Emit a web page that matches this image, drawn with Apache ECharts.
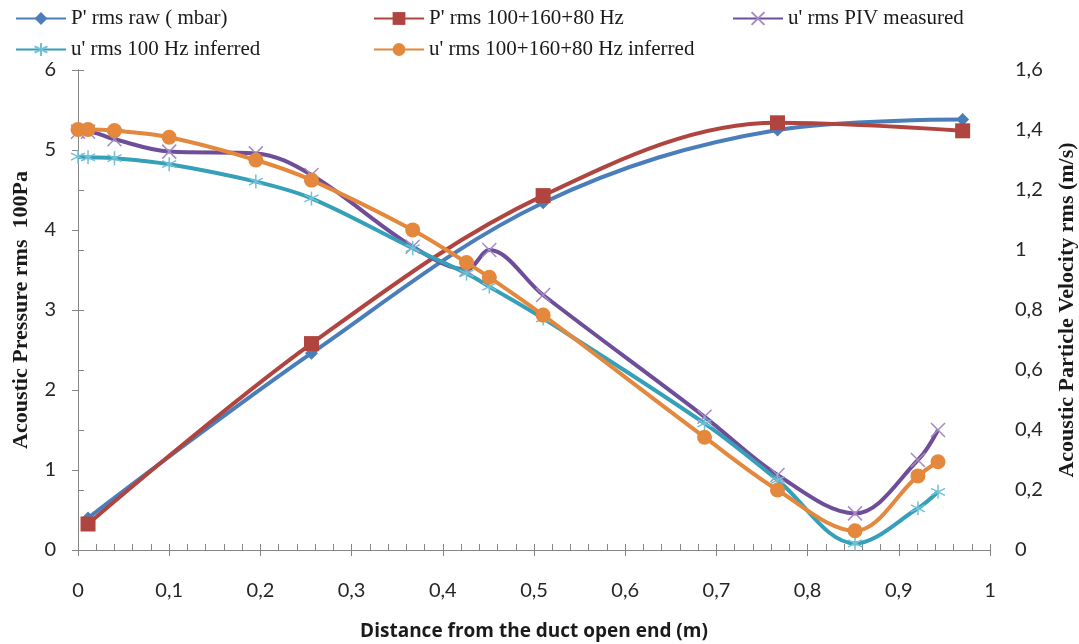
<!DOCTYPE html>
<html>
<head>
<meta charset="utf-8">
<script src="https://cdn.jsdelivr.net/npm/echarts@6/dist/echarts.min.js"></script>
<style>
  html, body { margin: 0; padding: 0; background: #fff; }
  #main { width: 1079px; height: 644px; }
</style>
</head>
<body>
<div id="main"></div>
<script>
// pressure series (left axis, 100 Pa)
var pRawX = [0.011, 0.256, 0.51, 0.767, 0.97];
var pRawY = [0.40, 2.46, 4.34, 5.25, 5.38];
var pFiltX = [0.011, 0.256, 0.51, 0.767, 0.97];
var pFiltY = [0.325, 2.58, 4.43, 5.34, 5.24];

// velocity series (right axis, m/s)
var uX = [0, 0.011, 0.040, 0.1, 0.195, 0.256, 0.367, 0.426, 0.451, 0.51, 0.687, 0.767, 0.852, 0.921, 0.943];
var uPiv = [1.394, 1.394, 1.369, 1.328, 1.322, 1.25, 1.011, 0.935, 1.0, 0.85, 0.444, 0.25, 0.122, 0.30, 0.40];
var u100 = [1.311, 1.309, 1.306, 1.286, 1.228, 1.172, 1.006, 0.922, 0.878, 0.772, 0.422, 0.233, 0.022, 0.139, 0.194];
var uAll = [1.402, 1.402, 1.398, 1.376, 1.30, 1.233, 1.067, 0.958, 0.909, 0.783, 0.376, 0.20, 0.064, 0.247, 0.294];

var names = ["P' rms raw ( mbar)", "P' rms 100+160+80 Hz", "u' rms PIV measured",
             "u' rms 100 Hz inferred", "u' rms 100+160+80 Hz inferred"];

function pairs(xs, ys) {
  return xs.map(function (x, i) { return [x, ys[i]]; });
}
function comma(v) { return String(Math.round(v * 10) / 10).replace('.', ','); }

var xMark = 'path://M0,0L10,10M10,0L0,10';
var starMark = 'path://M5,0L5,10M0.7,2.5L9.3,7.5M9.3,2.5L0.7,7.5';

var chart = echarts.init(document.getElementById('main'));

var axisLine = { lineStyle: { color: '#868686', width: 1 } };
var tickLabel = { color: '#262626', fontSize: 20, fontFamily: 'Lato' };
var legendText = { fontSize: 21, fontFamily: 'Liberation Serif', color: '#1a1a1a' };
var serifTitle = { fontSize: 22, fontWeight: 'bold', fontFamily: 'Liberation Serif', color: '#1a1a1a' };

function legendCol(left, data) {
  return {
    orient: 'vertical', left: left, top: 3,
    itemWidth: 50, itemHeight: 16, itemGap: 10, padding: [5, 3],
    textStyle: legendText, data: data
  };
}

var option = {
  animation: false,
  backgroundColor: '#fff',
  legend: [
    legendCol(12, [names[0], names[3]]),
    legendCol(370, [names[1], names[4]]),
    legendCol(729, [names[2]])
  ],
  grid: { left: 78, right: 89, top: 70, bottom: 94, containLabel: false, outerBoundsMode: 'none' },
  xAxis: [{
    type: 'value', min: 0, max: 1, interval: 0.1,
    axisLine: axisLine,
    axisTick: { length: 6, lineStyle: { color: '#868686' } },
    splitLine: { show: false },
    axisLabel: Object.assign({ margin: 31, formatter: comma }, tickLabel),
    name: 'Distance from the duct open end (m)',
    nameLocation: 'middle', nameGap: 72,
    nameTextStyle: { fontSize: 19, fontWeight: 'bold', fontFamily: 'Open Sans', color: '#1a1a1a' }
  }, {
    type: 'value', min: 0, max: 1, interval: 0.1, position: 'bottom',
    axisLine: { show: false },
    axisTick: { inside: true, length: 6, lineStyle: { color: '#868686' } },
    minorTick: { show: true, splitNumber: 5, length: 6, lineStyle: { color: '#868686' } },
    axisLabel: { show: false }, splitLine: { show: false }
  }],
  yAxis: [{
    type: 'value', min: 0, max: 6, interval: 1,
    axisLine: Object.assign({ show: true }, axisLine),
    axisTick: { show: true, length: 6, lineStyle: { color: '#868686' } },
    splitLine: { show: false },
    axisLabel: Object.assign({ margin: 22 }, tickLabel),
    name: 'Acoustic Pressure rms  100Pa',
    nameLocation: 'middle', nameGap: 46,
    nameTextStyle: serifTitle
  }, {
    type: 'value', min: 0, max: 1.6, interval: 0.2, position: 'right',
    axisLine: Object.assign({ show: true }, axisLine),
    axisTick: { show: true, length: 6, lineStyle: { color: '#868686' } },
    splitLine: { show: false },
    axisLabel: Object.assign({ margin: 25, formatter: comma }, tickLabel),
    name: 'Acoustic Particle Velocity rms (m/s)',
    nameLocation: 'middle', nameGap: 66, nameRotate: 90,
    nameTextStyle: serifTitle
  }],
  series: [{
    name: names[0], type: 'line', yAxisIndex: 0, smooth: 0.35,
    data: pairs(pRawX, pRawY),
    symbol: 'diamond', symbolSize: 13,
    lineStyle: { color: '#4A7EBB', width: 4 },
    itemStyle: { color: '#4A7EBB' }
  }, {
    name: names[1], type: 'line', yAxisIndex: 0, smooth: 0.35,
    data: pairs(pFiltX, pFiltY),
    symbol: 'rect', symbolSize: 15,
    lineStyle: { color: '#B0443F', width: 4 },
    itemStyle: { color: '#B0443F' }
  }, {
    name: names[2], type: 'line', yAxisIndex: 1, smooth: 0.35,
    data: pairs(uX, uPiv),
    symbol: xMark, symbolSize: 14,
    lineStyle: { color: '#6E4D99', width: 4 },
    itemStyle: { color: 'rgba(0,0,0,0)', borderColor: '#A58BC4', borderWidth: 1.5 }
  }, {
    name: names[3], type: 'line', yAxisIndex: 1, smooth: 0.35,
    data: pairs(uX, u100),
    symbol: starMark, symbolSize: 14,
    lineStyle: { color: '#35A0B8', width: 4 },
    itemStyle: { color: 'rgba(0,0,0,0)', borderColor: '#6FC2D6', borderWidth: 1.5 }
  }, {
    name: names[4], type: 'line', yAxisIndex: 1, smooth: 0.35,
    data: pairs(uX, uAll),
    symbol: 'circle', symbolSize: 15,
    lineStyle: { color: '#E3883C', width: 4 },
    itemStyle: { color: '#E3883C' }
  }]
};

chart.setOption(option);
</script>
</body>
</html>
